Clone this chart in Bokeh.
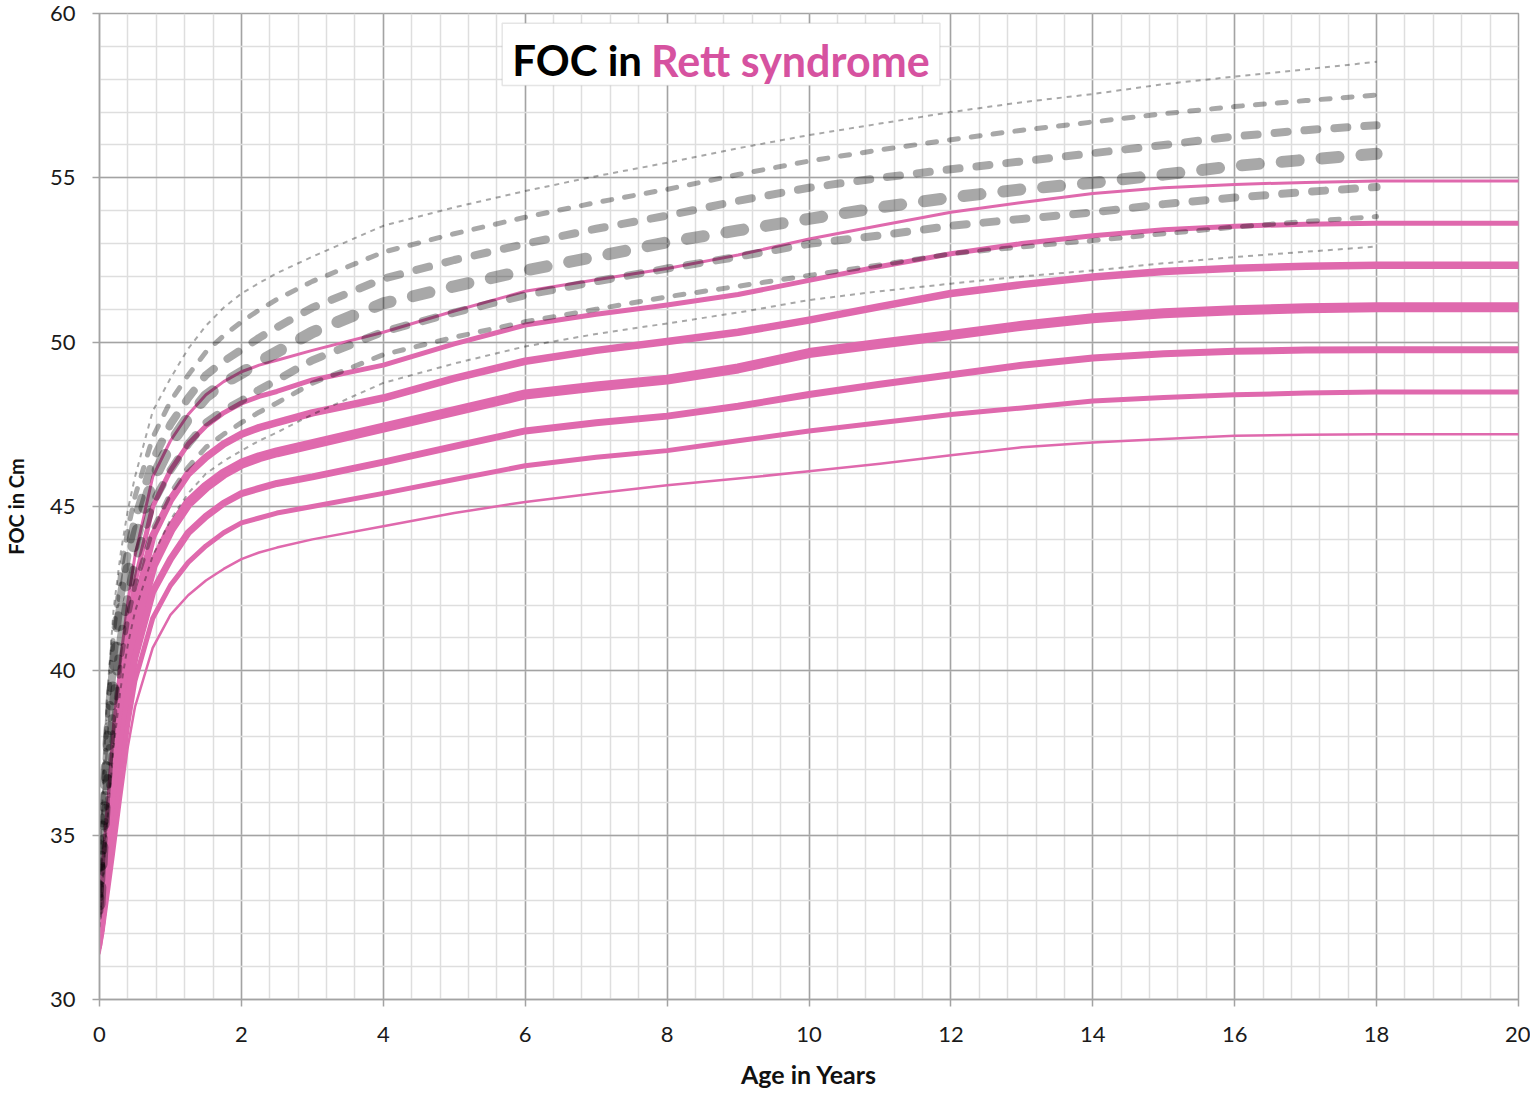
from bokeh.plotting import figure
from bokeh.models import Range1d, SingleIntervalTicker, BoxAnnotation, Label
from bokeh.embed import file_html
from bokeh.resources import INLINE

# ---------------- data ----------------
age_rett = [0, 0.05, 0.1, 0.2, 0.3, 0.4, 0.5, 0.75, 1, 1.25, 1.5, 1.75, 2, 2.25, 2.5, 3, 4, 5, 6, 7, 8, 9,
            10, 11, 12, 13, 14, 15, 16, 17, 18, 19, 20]
rett_1 = [33.0, 34.3, 35.6, 38.4, 40.4, 42.1, 43.5, 45.9, 47.0, 47.8, 48.4, 48.8, 49.1, 49.3, 49.45, 49.75, 50.3,
          50.95, 51.55, 51.9, 52.24, 52.65, 53.14, 53.55, 53.95, 54.25, 54.52, 54.7, 54.8, 54.86, 54.9, 54.9, 54.9]
rett_2 = [32.7, 33.9, 35.1, 37.7, 39.7, 41.4, 42.7, 45.0, 46.1, 46.9, 47.45, 47.85, 48.15, 48.35, 48.5, 48.85, 49.3,
          49.95, 50.52, 50.85, 51.13, 51.45, 51.88, 52.3, 52.69, 53.0, 53.24, 53.42, 53.53, 53.59, 53.62, 53.62, 53.62]
rett_3 = [32.4, 33.5, 34.7, 37.0, 39.0, 40.6, 41.9, 44.1, 45.2, 46.0, 46.5, 46.9, 47.2, 47.4, 47.55, 47.85, 48.3,
          48.9, 49.42, 49.75, 50.02, 50.3, 50.67, 51.08, 51.48, 51.75, 51.98, 52.15, 52.25, 52.31, 52.34, 52.34, 52.34]
rett_4 = [32.1, 33.1, 34.2, 36.4, 38.3, 39.9, 41.2, 43.2, 44.3, 45.1, 45.6, 46.0, 46.3, 46.5, 46.65, 46.9, 47.4,
          47.9, 48.41, 48.65, 48.86, 49.2, 49.67, 49.95, 50.22, 50.5, 50.73, 50.88, 50.97, 51.03, 51.06, 51.06, 51.06]
rett_5 = [31.9, 32.8, 33.7, 35.7, 37.5, 39.2, 40.4, 42.4, 43.4, 44.2, 44.7, 45.1, 45.39, 45.55, 45.7, 45.9, 46.35,
          46.83, 47.3, 47.55, 47.75, 48.05, 48.41, 48.72, 49.01, 49.3, 49.52, 49.65, 49.72, 49.76, 49.77, 49.77, 49.77]
rett_6 = [31.6, 32.4, 33.3, 35.1, 36.8, 38.4, 39.7, 41.6, 42.6, 43.3, 43.8, 44.2, 44.5, 44.65, 44.8, 45.0, 45.4,
          45.82, 46.24, 46.5, 46.7, 47.0, 47.3, 47.55, 47.8, 48.0, 48.21, 48.32, 48.4, 48.45, 48.48, 48.48, 48.48]
rett_7 = [31.4, 32.0, 32.8, 34.4, 36.1, 37.7, 38.9, 40.7, 41.7, 42.3, 42.75, 43.1, 43.4, 43.6, 43.75, 44.0, 44.4,
          44.8, 45.14, 45.4, 45.65, 45.85, 46.07, 46.3, 46.56, 46.8, 46.95, 47.05, 47.15, 47.18, 47.2, 47.2, 47.2]

age_ref = [0, 0.05, 0.1, 0.2, 0.3, 0.4, 0.5, 0.75, 1, 1.25, 1.5, 1.75, 2, 2.25, 2.5, 3, 4, 5, 6, 7, 8, 9,
           10, 11, 12, 13, 14, 15, 16, 17, 18]
ref_1 = [33.5, 36.5, 39.0, 41.9, 43.6, 44.9, 45.9, 47.9, 48.9, 49.8, 50.5, 51.05, 51.48, 51.8, 52.1, 52.6, 53.54,
         54.1, 54.6, 55.05, 55.46, 55.9, 56.3, 56.65, 57.0, 57.3, 57.55, 57.85, 58.08, 58.3, 58.53]
ref_2 = [33.3, 36.0, 38.3, 41.2, 43.0, 44.3, 45.3, 47.1, 48.2, 49.0, 49.7, 50.2, 50.62, 50.98, 51.3, 51.85, 52.74,
         53.3, 53.8, 54.25, 54.65, 55.1, 55.51, 55.85, 56.16, 56.45, 56.7, 56.95, 57.17, 57.35, 57.52]
ref_3 = [33.1, 35.5, 37.6, 40.5, 42.3, 43.6, 44.6, 46.4, 47.5, 48.3, 49.0, 49.42, 49.77, 50.13, 50.45, 51.05, 51.93,
         52.5, 52.99, 53.45, 53.85, 54.3, 54.7, 55.0, 55.26, 55.5, 55.75, 56.0, 56.26, 56.45, 56.6]
ref_4 = [32.9, 35.0, 37.0, 39.9, 41.7, 43.0, 44.0, 45.8, 46.9, 47.7, 48.35, 48.75, 49.06, 49.4, 49.7, 50.3, 51.18,
         51.7, 52.18, 52.6, 53.04, 53.4, 53.75, 54.1, 54.4, 54.65, 54.85, 55.1, 55.36, 55.55, 55.73]
ref_5 = [32.7, 34.6, 36.4, 39.2, 41.0, 42.3, 43.3, 45.1, 46.1, 46.9, 47.55, 47.92, 48.22, 48.55, 48.85, 49.45, 50.32,
         50.9, 51.43, 51.85, 52.24, 52.6, 52.99, 53.25, 53.54, 53.75, 53.95, 54.2, 54.4, 54.57, 54.72]
ref_6 = [32.5, 34.2, 35.8, 38.5, 40.3, 41.6, 42.6, 44.3, 45.4, 46.2, 46.8, 47.2, 47.55, 47.87, 48.15, 48.75, 49.62,
         50.15, 50.62, 51.0, 51.38, 51.7, 52.03, 52.35, 52.69, 52.9, 53.09, 53.3, 53.5, 53.67, 53.82]
ref_7 = [32.2, 33.7, 35.2, 37.7, 39.5, 40.8, 41.8, 43.5, 44.6, 45.4, 46.0, 46.38, 46.7, 47.0, 47.25, 47.8, 48.76,
         49.35, 49.87, 50.25, 50.57, 50.9, 51.28, 51.55, 51.78, 52.0, 52.18, 52.4, 52.59, 52.75, 52.91]

x_ticks_interval = 2
y_ticks_interval = 5

title_black = "FOC in"
title_pink = "Rett syndrome"
x_label = "Age in Years"
y_label = "FOC in Cm"

# ---------------- styles ----------------
PINK = "#df69ad"
TITLE_PINK = "#d652a0"
MAJOR = "#a3a3a3"
MINOR = "#dedede"
FONT = "Lato"

rett_series = [rett_1, rett_2, rett_3, rett_4, rett_5, rett_6, rett_7]
rett_widths = [3, 5, 7.5, 10, 7, 5, 2.5]

ref_series = [ref_1, ref_2, ref_3, ref_4, ref_5, ref_6, ref_7]
ref_widths = [2, 5, 8, 12, 8, 5, 2]
ref_dashes = ["5 5", "9 13", "13 17", "17 23", "13 17", "9 13", "5 5"]
ref_caps = ["butt", "round", "round", "round", "round", "round", "butt"]

p = figure(width=1530, height=1094,
           x_range=Range1d(0, 20), y_range=Range1d(30, 60),
           output_backend="svg", toolbar_location=None,
           min_border_left=98, min_border_right=12,
           min_border_top=13, min_border_bottom=95)
p.background_fill_color = "white"
p.border_fill_color = "white"
p.outline_line_color = MAJOR
p.outline_line_width = 1.5

p.xaxis.ticker = SingleIntervalTicker(interval=x_ticks_interval, num_minor_ticks=5)
p.yaxis.ticker = SingleIntervalTicker(interval=y_ticks_interval, num_minor_ticks=5)

for g in (p.xgrid, p.ygrid):
    g.grid_line_color = MAJOR
    g.grid_line_width = 1.5
    g.minor_grid_line_color = MINOR
    g.minor_grid_line_width = 1.5

for ax in (p.xaxis, p.yaxis):
    ax.axis_line_color = MAJOR
    ax.axis_line_width = 1.5
    ax.major_tick_line_color = MAJOR
    ax.major_tick_line_width = 1.5
    ax.major_tick_out = 7
    ax.major_tick_in = 0
    ax.minor_tick_out = 0
    ax.minor_tick_in = 0
    ax.major_label_text_font = FONT
    ax.major_label_text_font_size = "22px"
    ax.major_label_text_color = "#1a1a1a"
    ax.axis_label_text_font = FONT
    ax.axis_label_text_font_style = "bold"
    ax.axis_label_text_color = "#111111"

p.xaxis.axis_label = x_label
p.xaxis.axis_label_text_font_size = "25px"
p.xaxis.major_label_standoff = 20
p.xaxis.axis_label_standoff = 14

p.yaxis.axis_label = y_label
p.yaxis.axis_label_text_font_size = "20px"
p.yaxis.major_label_standoff = 17
p.yaxis.axis_label_standoff = 19

# Rett syndrome centiles (pink solid)
for ys, w in zip(rett_series, rett_widths):
    p.line(age_rett, ys, line_color=PINK, line_width=w, line_join="round", line_cap="round")

# reference centiles (grey dashed, translucent)
for ys, w, d, c in zip(ref_series, ref_widths, ref_dashes, ref_caps):
    p.line(age_ref, ys, line_color="black", line_alpha=0.34, line_width=w,
           line_dash=d, line_cap=c, line_join="round")

# title box
p.add_layout(BoxAnnotation(left=5.676, right=11.845, top=59.70, bottom=57.81,
                           fill_color="white", fill_alpha=1.0,
                           line_color="#a8a8a8", line_width=1.5))
p.add_layout(Label(x=5.817, y=58.57, text=title_black, text_font=FONT,
                   text_font_style="bold", text_font_size="42px",
                   text_color="black", text_baseline="alphabetic", text_align="left"))
p.add_layout(Label(x=11.70, y=58.57, text=title_pink, text_font=FONT,
                   text_font_style="bold", text_font_size="43px",
                   text_color=TITLE_PINK, text_baseline="alphabetic", text_align="right"))

open("out.html", "w").write(file_html(p, INLINE))
